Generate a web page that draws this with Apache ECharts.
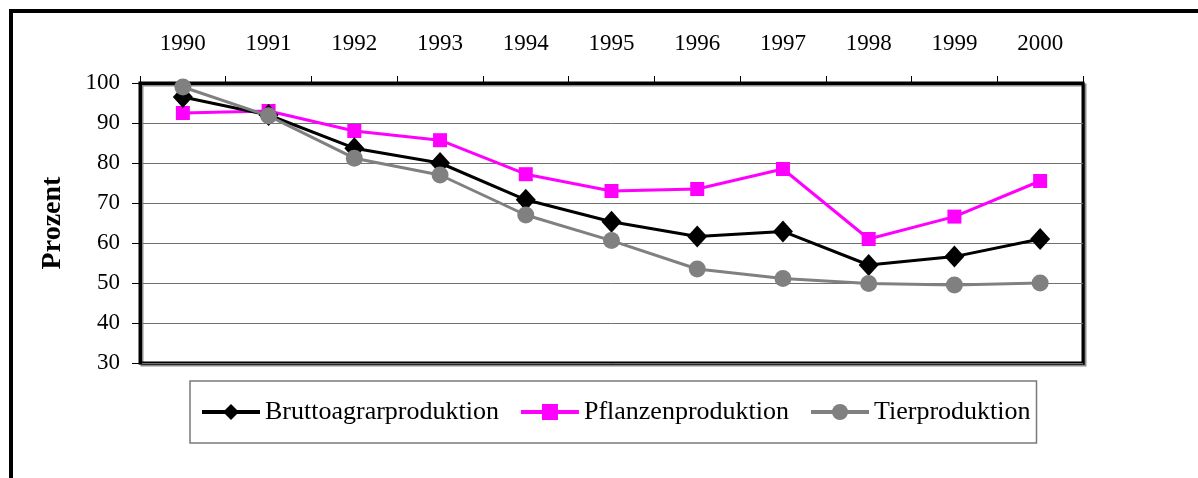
<!DOCTYPE html>
<html>
<head>
<meta charset="utf-8">
<title>Produktion 1990-2000</title>
<script src="https://cdn.jsdelivr.net/npm/echarts@6/dist/echarts.min.js"></script>
<style>
  html, body { margin: 0; padding: 0; background: #fff; }
  #chart { width: 1198px; height: 478px; }
</style>
</head>
<body>
<div id="chart"></div>
<script>
  // Jahre (Kategorien)
  const years = ['1990', '1991', '1992', '1993', '1994', '1995', '1996', '1997', '1998', '1999', '2000'];

  // Werte in Prozent
  const brutto = [96.5, 92, 83.7, 80, 70.8, 65.3, 61.6, 62.9, 54.5, 56.6, 61];
  const pflanzen = [92.5, 93, 88, 85.7, 77.2, 73, 73.5, 78.5, 61, 66.6, 75.5];
  const tier = [99, 91.8, 81.2, 77, 67, 60.6, 53.5, 51.1, 49.9, 49.5, 50];

  const serif = '"Liberation Serif", "DejaVu Serif", serif';

  const chart = echarts.init(document.getElementById('chart'));

  const option = {
    backgroundColor: '#fff',
    animation: false,
    textStyle: { fontFamily: serif },
    graphic: [
      {
        type: 'rect',
        shape: { x: 11, y: 11, width: 1250, height: 600 },
        style: { fill: 'none', stroke: '#000', lineWidth: 4 },
        z: 100,
      },
    ],
    grid: {
      left: 140,
      right: 115,
      top: 83,
      bottom: 115,
      show: true,
      backgroundColor: '#fff',
      borderColor: '#000',
      borderWidth: 3,
      shadowColor: 'rgba(0,0,0,0.45)',
      shadowOffsetX: 2,
      shadowOffsetY: 2,
    },
    legend: {
      left: 190,
      top: 381,
      padding: [18, 6, 18, 10],
      itemGap: 20,
      itemWidth: 58,
      itemHeight: 20,
      borderColor: '#7a7a7a',
      borderWidth: 1.5,
      lineStyle: { width: 4 },
      textStyle: { fontFamily: serif, fontSize: 26, color: '#000' },
      data: ['Bruttoagrarproduktion', 'Pflanzenproduktion', 'Tierproduktion'],
    },
    xAxis: {
      type: 'category',
      position: 'top',
      data: years,
      boundaryGap: true,
      axisLine: { lineStyle: { color: '#000', width: 3 } },
      axisTick: { show: true, inside: false, length: 7, lineStyle: { color: '#000', width: 1 } },
      axisLabel: { fontFamily: serif, fontSize: 23, color: '#000', margin: 28 },
      splitLine: { show: false },
    },
    yAxis: {
      type: 'value',
      min: 30,
      max: 100,
      interval: 10,
      name: 'Prozent',
      nameLocation: 'middle',
      nameGap: 73,
      nameRotate: 90,
      nameTextStyle: { fontFamily: serif, fontSize: 28, fontWeight: 'bold', color: '#000' },
      axisLine: { show: true, lineStyle: { color: '#000', width: 3 } },
      axisTick: { show: true, inside: false, length: 8, lineStyle: { color: '#000', width: 1 } },
      axisLabel: { fontFamily: serif, fontSize: 23, color: '#000', margin: 20 },
      splitLine: { show: true, lineStyle: { color: '#707070', width: 1 } },
    },
    series: [
      {
        name: 'Bruttoagrarproduktion',
        type: 'line',
        data: brutto,
        symbol: 'diamond',
        symbolSize: [20, 22],
        itemStyle: { color: '#000' },
        lineStyle: { color: '#000', width: 3 },
        z: 3,
      },
      {
        name: 'Pflanzenproduktion',
        type: 'line',
        data: pflanzen,
        symbol: 'rect',
        symbolSize: 14,
        itemStyle: { color: '#ff00ff' },
        lineStyle: { color: '#ff00ff', width: 3 },
        z: 2,
      },
      {
        name: 'Tierproduktion',
        type: 'line',
        data: tier,
        symbol: 'circle',
        symbolSize: 17,
        itemStyle: { color: '#808080' },
        lineStyle: { color: '#808080', width: 3 },
        z: 4,
      },
    ],
  };

  chart.setOption(option);
</script>
</body>
</html>
